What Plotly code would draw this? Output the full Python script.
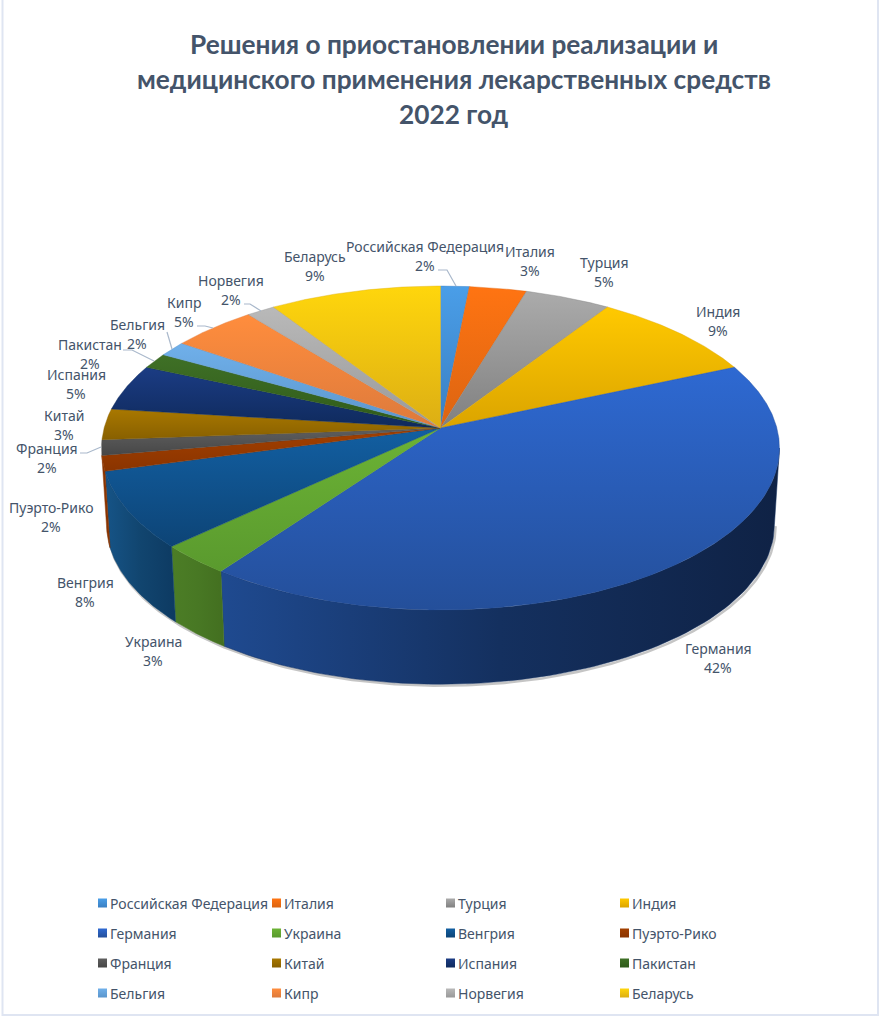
import numpy as np
import plotly.graph_objects as go

# ---- data ----
COUNTRIES = ["Российская Федерация", "Италия", "Турция", "Индия", "Германия", "Украина",
             "Венгрия", "Пуэрто-Рико", "Франция", "Китай", "Испания", "Пакистан",
             "Бельгия", "Кипр", "Норвегия", "Беларусь"]
VALUES = [1, 2, 3, 6, 27, 2, 5, 1, 1, 2, 3, 1, 1, 3, 1, 6]
PERCENT_LABELS = ["2%", "3%", "5%", "9%", "42%", "3%", "8%", "2%", "2%", "3%", "5%", "2%", "2%", "5%", "2%", "9%"]
TITLE_LINES = ["Решения о приостановлении реализации и",
               "медицинского применения лекарственных средств",
               "2022 год"]

# ---- style ----
TOP_LIGHT = ["#4a9ee8", "#ff7412", "#ababab", "#ffc900", "#2e69d2", "#6cb335", "#125fa2", "#a34000",
             "#5f5f5f", "#a97800", "#1b3c84", "#3f7026", "#70b0ea", "#ff8d3d", "#b9b9b9", "#ffd60c"]
TOP_DARK = ["#3a7fc2", "#db6411", "#808080", "#dba400", "#244f9a", "#5a9a2e", "#0d4476", "#8a3400",
            "#474747", "#886000", "#0f2a5c", "#2f5a1a", "#5a95cc", "#dd7a3c", "#999999", "#dcae14"]
WALLS = {4: ["#1f4a90", "#14305f", "#0f2245"], 5: ["#4c7d26", "#487824", "#436f20"],
         6: ["#165487", "#11456f", "#0d3a62"], 7: ["#8a3400", "#8a3400", "#8a3400"]}
TEXT = "#44546a"
FONT = "Noto Sans"
TITLE_FONT = "Lato"
LABEL_POS = [(425, 246), (530, 251), (604, 262), (718, 311), (718, 648), (153, 641), (85, 582), (51, 507),
             (47, 448), (64, 415), (76, 374), (90, 344), (137, 324), (184, 302), (231, 280), (315, 256)]
LEADERS = [[(438, 270), (447, 270), (456, 286)],
           [(167, 332), (172, 349)],
           [(197, 326), (205, 326), (213, 328)],
           [(244, 304), (250, 304), (261, 311)],
           [(123, 350), (132, 350), (154, 361)],
           [(80, 453), (87, 453), (101, 447)]]

# ---- projection of the tilted disc (pixel axes) ----
CX, CY = 440.5, 428.0
A, B, K = 336.4, 159.5, 0.1235
DEPTH, S = 77.0, 0.985


def top_pt(theta):
    u, v = np.sin(theta), np.cos(theta)
    w = 1 + K * v
    return CX + A * u / w, CY - B * v / w


def bot_pt(theta):
    u, v = np.sin(theta), np.cos(theta)
    w = 1 + K * v
    return CX + S * A * u / w, CY + DEPTH - S * B * v / w


total = sum(VALUES)
edges = np.concatenate([[0], np.cumsum(VALUES)]) / total * 2 * np.pi
VIS0, VIS1 = np.arccos(-K), 2 * np.pi - np.arccos(-K)

fig = go.Figure()

# soft shadow under the lower rim
th = np.linspace(VIS0, VIS1, 200)
bx, by = bot_pt(th)
fig.add_trace(go.Scatter(x=bx + 1.2, y=by + 1.5, mode="lines", hoverinfo="skip",
                         line=dict(color="rgba(110,110,110,0.4)", width=2.5)))

# side walls
for i, stops in WALLS.items():
    lo, hi = max(edges[i], VIS0), min(edges[i + 1], VIS1)
    if lo >= hi:
        continue
    th = np.linspace(lo, hi, 80)
    tx, ty = top_pt(th)
    bx, by = bot_pt(th[::-1])
    fig.add_trace(go.Scatter(
        x=np.r_[tx, bx, tx[0]], y=np.r_[ty, by, ty[0]], mode="lines", fill="toself",
        line=dict(color=stops[1], width=0.5), hoverinfo="skip",
        fillgradient=dict(type="horizontal",
                          colorscale=[[0, stops[0]], [0.5, stops[1]], [1, stops[2]]])))

# top surface
for i, name in enumerate(COUNTRIES):
    th = np.linspace(edges[i], edges[i + 1], max(12, int(VALUES[i] * 16)))
    tx, ty = top_pt(th)
    fig.add_trace(go.Scatter(
        x=np.r_[CX, tx, CX], y=np.r_[CY, ty, CY], mode="lines", fill="toself", name=name,
        line=dict(color=TOP_DARK[i], width=0.4), hoverinfo="name",
        fillgradient=dict(type="vertical",
                          colorscale=[[0, TOP_DARK[i]], [1, TOP_LIGHT[i]]])))

# leader lines
for pts in LEADERS:
    fig.add_trace(go.Scatter(x=[p[0] for p in pts], y=[p[1] for p in pts], mode="lines",
                             line=dict(color="#a9b8cb", width=1.2), hoverinfo="skip"))

ann = []

# legend rows
for i, name in enumerate(COUNTRIES):
    col, row = i % 4, i // 4
    fig.add_trace(go.Scatter(
        x=[102.5 + 174 * col], y=[903 + 30 * row], mode="markers",
        hoverinfo="skip",
        marker=dict(symbol="square", size=9, color=TOP_LIGHT[i],
                    gradient=dict(type="vertical", color=TOP_DARK[i]),
                    line=dict(width=0))))
    ann.append(dict(x=108 + 174 * col, y=903 + 30 * row, text=name, showarrow=False,
                    xref="x", yref="y", xanchor="left",
                    font=dict(family=FONT, size=14, color=TEXT)))

for name, pct, (x, y) in zip(COUNTRIES, PERCENT_LABELS, LABEL_POS):
    ann.append(dict(x=x, y=y, text=name, showarrow=False, xref="x", yref="y",
                    font=dict(family=FONT, size=14, color=TEXT)))
    ann.append(dict(x=x, y=y + 19, text=pct, showarrow=False, xref="x", yref="y",
                    font=dict(family=FONT, size=14, color=TEXT)))
for line, y in zip(TITLE_LINES, (43.5, 79, 113.5)):
    ann.append(dict(x=454, y=y, text="<b>%s</b>" % line, showarrow=False, xref="x", yref="y",
                    font=dict(family=TITLE_FONT, size=26.25, color=TEXT)))

fig.update_layout(
    width=883, height=1020, margin=dict(l=0, r=0, t=0, b=0), showlegend=False,
    paper_bgcolor="white", plot_bgcolor="white", annotations=ann,
    xaxis=dict(range=[0, 883], visible=False, fixedrange=True),
    yaxis=dict(range=[1020, 0], visible=False, fixedrange=True),
    shapes=[dict(type="rect", xref="x", yref="y", x0=2.5, x1=878, y0=-3, y1=1015,
                 line=dict(color="#dfe5f2", width=2), layer="below")],
)
fig.write_html("out.html", config=dict(displayModeBar=False),
               post_script="document.body.style.margin='0';")
